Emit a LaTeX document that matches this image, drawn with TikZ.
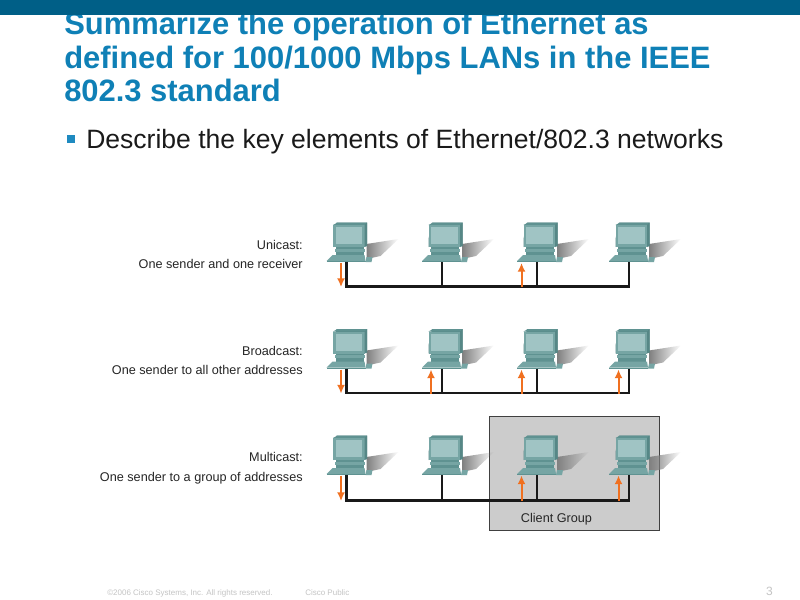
\documentclass[tikz,border=0pt]{standalone}
\usepackage{fontspec}
\setmainfont{Liberation Sans}
\usetikzlibrary{fadings,arrows.meta}
\definecolor{bandc}{HTML}{005F87}
\definecolor{titlec}{HTML}{0F80B6}
\definecolor{bodyc}{HTML}{1A1A1A}
\definecolor{bulletc}{HTML}{1E8AC0}
\definecolor{pcdark}{HTML}{5F9291}
\definecolor{pcmid}{HTML}{76A5A4}
\definecolor{pcscreen}{HTML}{A0C4C4}
\definecolor{pcside}{HTML}{568786}
\definecolor{orangec}{HTML}{F07020}
\definecolor{groupc}{HTML}{CCCCCC}
\definecolor{footc}{HTML}{C4C4C4}
\tikzset{
  x=0.75pt,y=-0.75pt,
  wire/.style={line width=1.6pt,draw=black!90},
  sig/.style={line width=1.5pt,draw=orangec,-{Latex[length=6.5pt,width=6pt]}},
  labelhead/.style={font=\fontsize{9.5}{11}\selectfont,text=black!85,anchor=base east,inner sep=0pt},
  labelsub/.style={font=\fontsize{9.5}{11}\selectfont,text=black!85,anchor=base east,inner sep=0pt},
  pc/.pic={
    % origin = cable entry under the keyboard base
    \fill[black!50,path fading=east] (20,-18) -- (52,-23) -- (34,-6) -- (20,-3) -- cycle;
    \fill[pcside] (-13.5,-23) -- (-10,-39.5) -- (20.5,-39.5) -- (20.5,-16) -- (-13.5,-15) -- cycle;
    \fill[pcdark] (-13.5,-37) -- (-9,-39.5) -- (20.5,-39.5) -- (18,-37) -- cycle;
    \fill[pcmid] (-13.5,-37) -- (18,-37) -- (18,-15) -- (-13.5,-15) -- cycle;
    \fill[pcside] (18,-37) -- (20.5,-39.5) -- (20.5,-16) -- (18,-15) -- cycle;
    \fill[pcscreen] (-11,-35) -- (15.5,-35) -- (15.5,-18) -- (-11,-18) -- cycle;
    \fill[pcdark] (-11,-15) -- (17,-15) -- (17,-6) -- (-11,-6) -- cycle;
    \fill[pcmid] (-12,-13.5) -- (18,-13.5) -- (18,-10.5) -- (-12,-10.5) -- cycle;
    \fill[pcmid] (-14,-7) -- (18,-7) -- (19,-1) -- (-20,-1) -- cycle;
    \fill[pcdark] (-20,-1) -- (19,-1) -- (19,0) -- (-20,0) -- cycle;
    \fill[pcmid] (20,-5) -- (26,-5) -- (25,0) -- (19,0) -- cycle;
    \coordinate (-stem) at (0,0);
  }
}
\begin{document}
\begin{tikzpicture}
\useasboundingbox (0,0) rectangle (800,600);
\fill[white] (0,0) rectangle (800,600);

\node[anchor=north west,inner sep=0pt,align=left,text=titlec,
      font=\fontsize{23.2}{25.1}\selectfont\bfseries] (title) at (64,12)
  {Summarize the operation of Ethernet as\\defined for 100/1000 Mbps LANs in the IEEE\\802.3 standard};
\fill[bandc] (0,0) rectangle (800,15);
\node[anchor=center,fill=bulletc,minimum size=6pt,inner sep=0pt] (bullet) at (71,139) {};
\node[anchor=base west,inner sep=0pt,text=bodyc,font=\fontsize{19.9}{22}\selectfont] (body) at (86,148)
  {Describe the key elements of Ethernet/802.3 networks};

% client group box
\node[draw=black!75,line width=0.8pt,fill=groupc,anchor=north west,minimum width=127.5pt,minimum height=85.5pt,inner sep=0pt] (group) at (489,415.5) {};
\node[anchor=base,inner sep=0pt,text=black!85,font=\fontsize{9.5}{11}\selectfont] (grouplabel) at (556.5,522) {Client Group};

% row labels
\node[labelhead] (l1a) at (303,249) {Unicast:};
\node[labelsub]  (l1b) at (303,268) {One sender and one receiver};
\node[labelhead] (l2a) at (303,355) {Broadcast:};
\node[labelsub]  (l2b) at (303,374) {One sender to all other addresses};
\node[labelhead] (l3a) at (303,461) {Multicast:};
\node[labelsub]  (l3b) at (303,481) {One sender to a group of addresses};

% computers
\foreach \r/\y in {u/262,b/368.5,m/475}{
  \pic (\r1) at (346.5,\y) {pc};
  \pic (\r2) at (442,\y) {pc};
  \pic (\r3) at (537,\y) {pc};
  \pic (\r4) at (629,\y) {pc};
}
% bus coordinates
\foreach \r/\y in {u/286.5,b/393,m/500.5}{
  \coordinate (\r1b) at (346.5,\y);
  \coordinate (\r2b) at (442,\y);
  \coordinate (\r3b) at (537,\y);
  \coordinate (\r4b) at (629,\y);
  \draw[wire] (\r1-stem) -- (\r1b) -- (\r4b) -- (\r4-stem);
  \draw[wire] (\r2-stem) -- (\r2b);
  \draw[wire] (\r3-stem) -- (\r3b);
}
% signal coordinates and arrows
\foreach \r/\yt/\yb in {u/263/287,b/369.5/393.5,m/475.5/501}{
  \coordinate (\r at1) at (341,\yt);  \coordinate (\r ab1) at (341,\yb);
  \coordinate (\r at2) at (431,\yt);  \coordinate (\r ab2) at (431,\yb);
  \coordinate (\r at3) at (521.5,\yt);\coordinate (\r ab3) at (521.5,\yb);
  \coordinate (\r at4) at (618.5,\yt);\coordinate (\r ab4) at (618.5,\yb);
  \draw[sig] (\r at1) -- (\r ab1);
  \draw[sig] (\r ab3) -- (\r at3);
}
\draw[sig] (bab2) -- (bat2);
\draw[sig] (bab4) -- (bat4);
\draw[sig] (mab4) -- (mat4);

% footer
\node[anchor=base west,inner sep=0pt,text=footc,font=\fontsize{6}{7}\selectfont] (copy) at (107,595) {©2006 Cisco Systems, Inc. All rights reserved.};
\node[anchor=base west,inner sep=0pt,text=footc,font=\fontsize{6}{7}\selectfont] (pub) at (305,595) {Cisco Public};
\node[anchor=base east,inner sep=0pt,text=footc,font=\fontsize{9}{11}\selectfont] (page) at (773,595) {3};
\end{tikzpicture}
\end{document}
